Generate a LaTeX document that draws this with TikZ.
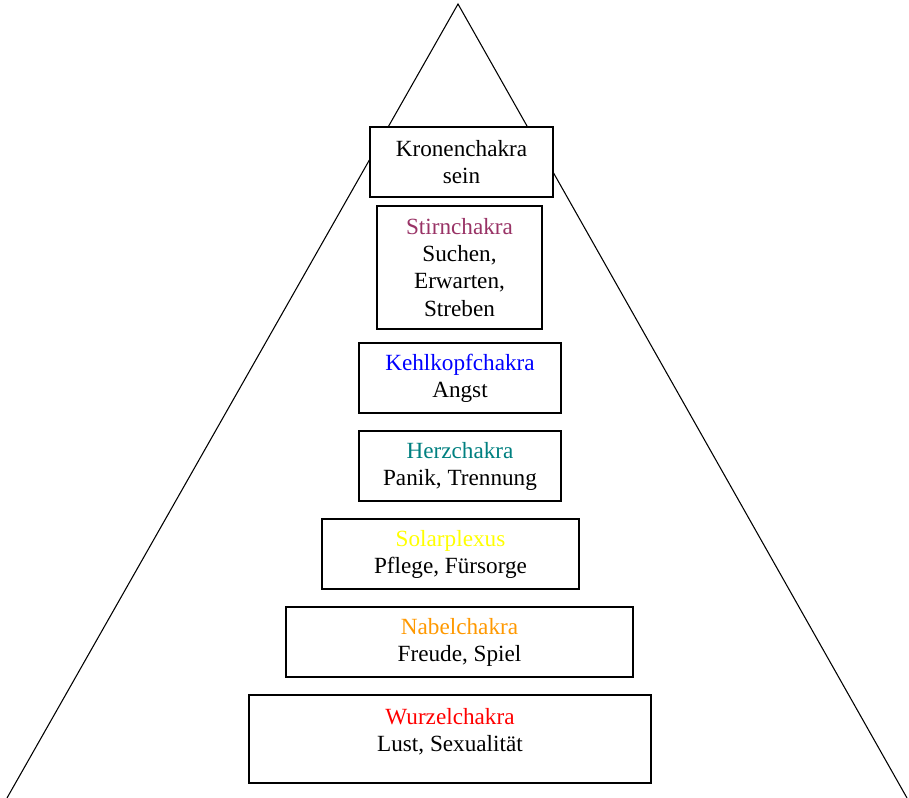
\documentclass[tikz,border=0pt]{standalone}
\usepackage{fontspec}
\setmainfont{Liberation Serif}
\usepackage{xcolor}
\usetikzlibrary{positioning}
\definecolor{ChStirn}{RGB}{153,51,102}
\definecolor{ChKehl}{RGB}{0,0,255}
\definecolor{ChHerz}{RGB}{0,128,128}
\definecolor{ChSolar}{RGB}{255,255,0}
\definecolor{ChNabel}{RGB}{255,153,0}
\definecolor{ChWurzel}{RGB}{255,0,0}
\begin{document}
\begin{tikzpicture}[
    x=0.75pt, y=-0.75pt,
    chakra/.style={
      draw,
      fill=white,
      line width=0.8pt,
      align=center,
      font=\fontsize{17.4}{20.3}\selectfont,
      inner sep=0pt
    },
    txt/.style={
      align=center,
      font=\fontsize{17.4}{20.3}\selectfont,
      inner sep=0pt
    }
  ]
    \useasboundingbox (0,0) rectangle (909,798);

    % pyramid
    \coordinate (apex) at (458,4);
    \coordinate (base-left) at (7,798);
    \coordinate (base-right) at (907,798);
    \draw[line width=0.8pt] (base-left) -- (apex) -- (base-right);

    \node[chakra, minimum width=137.25pt, minimum height=52.5pt] (krone)
      at (461.5,162) {Kronenchakra\\sein};
    \node[chakra, minimum width=123.75pt, minimum height=92.25pt] (stirn)
      at (459.5,267.5) {\textcolor{ChStirn}{Stirnchakra}\\Suchen,\\Erwarten,\\Streben};
    \node[chakra, minimum width=151.5pt, minimum height=52.5pt] (kehl)
      at (460,378) {\textcolor{ChKehl}{Kehlkopfchakra}\\Angst};
    \node[chakra, minimum width=151.5pt, minimum height=52.5pt] (herz)
      at (460,466) {\textcolor{ChHerz}{Herzchakra}\\Panik, Trennung};
    \node[chakra, minimum width=192.75pt, minimum height=52.5pt] (solar)
      at (450.5,554) {\textcolor{ChSolar}{Solarplexus}\\Pflege, Fürsorge};
    \node[chakra, minimum width=260.25pt, minimum height=52.5pt] (nabel)
      at (459.5,642) {\textcolor{ChNabel}{Nabelchakra}\\Freude, Spiel};
    \node[chakra, minimum width=301.5pt, minimum height=66pt,
      label={[txt, yshift=5.6pt]center:{\textcolor{ChWurzel}{Wurzelchakra}\\Lust, Sexualität}}]
      (wurzel) at (450,739) {};
  \end{tikzpicture}
\end{document}
